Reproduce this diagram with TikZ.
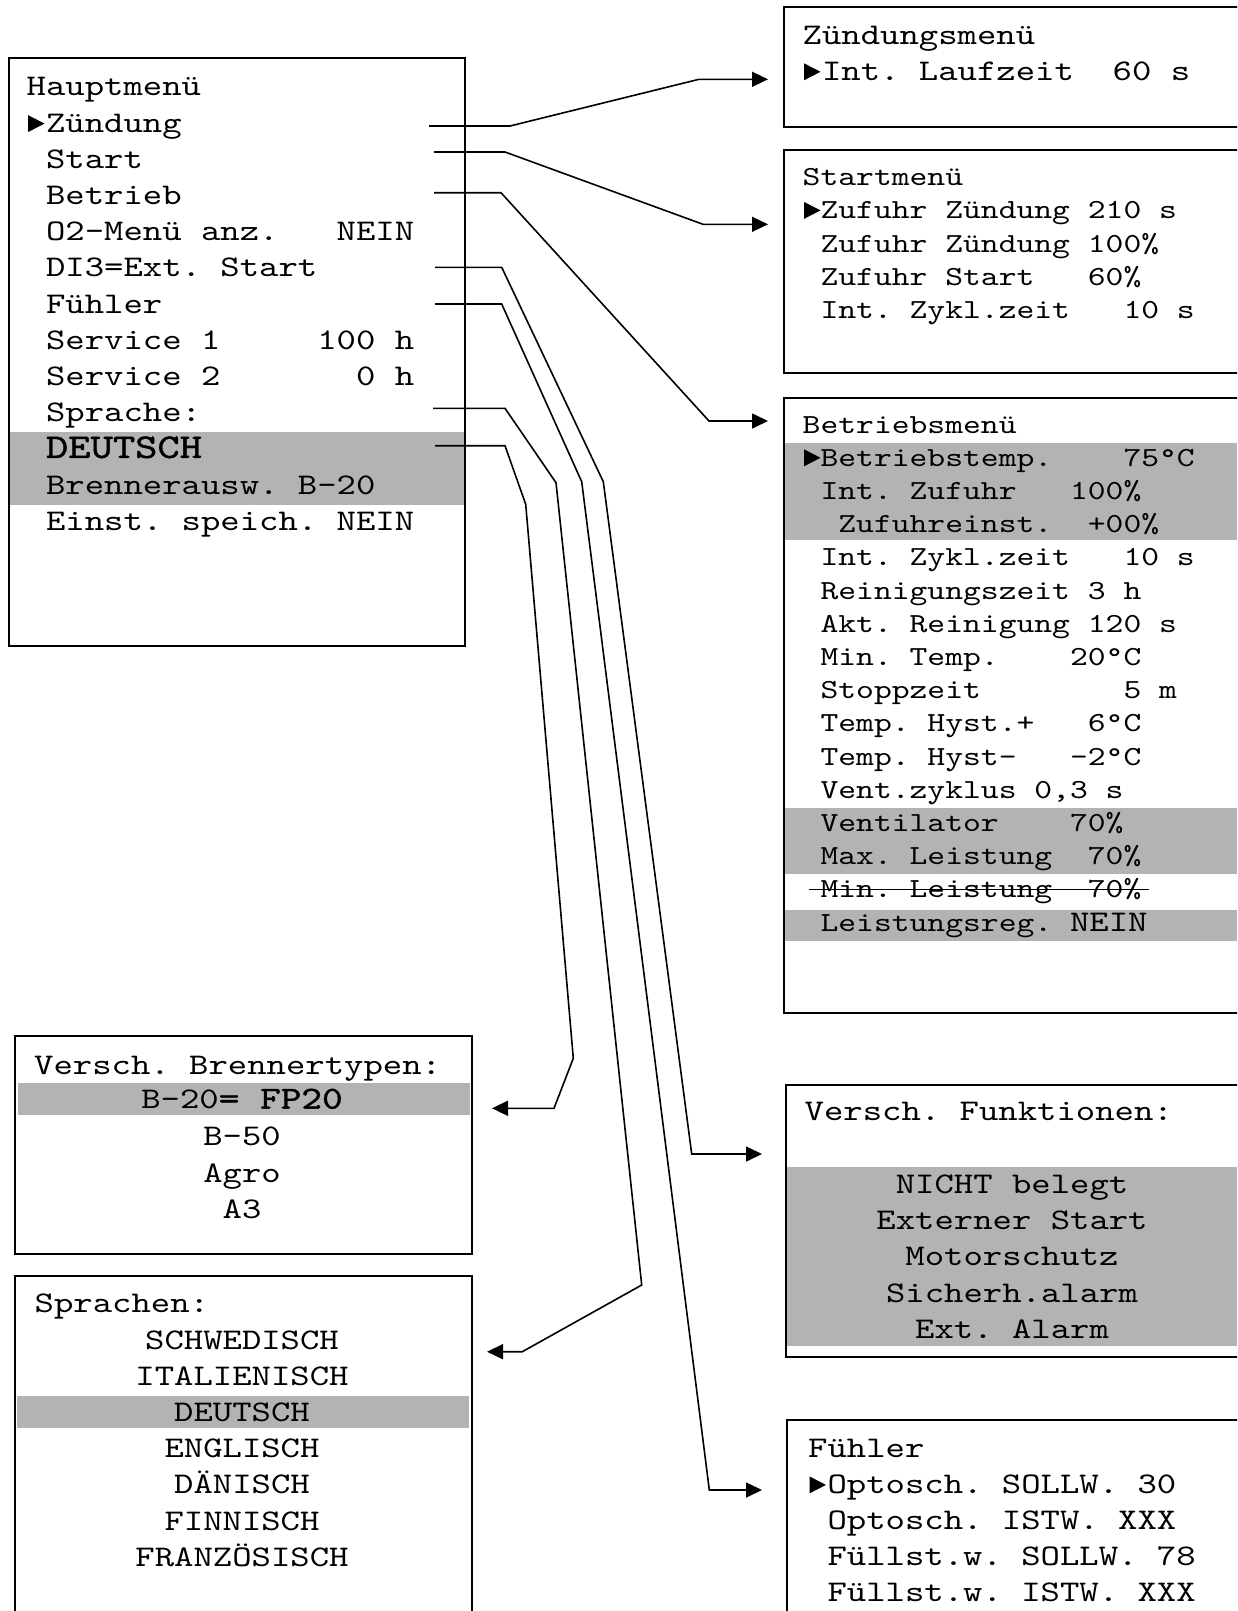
\documentclass[tikz,border=0pt]{standalone}
\usepackage{fontspec}
\usetikzlibrary{arrows.meta, positioning}

\newfontfamily\lcdfont{lmmono10-regular.otf}[FakeStretch=1.23]
\newfontfamily\lcdboldfont{lmmono10-regular.otf}[FakeStretch=1.23, FakeBold=1.2]
\definecolor{lcdgray}{RGB}{179,179,179}

\newcommand\mainrow{\lcdfont\fontsize{30}{36}\selectfont\frenchspacing}
\newcommand\subrow{\lcdfont\fontsize{27.6}{33}\selectfont\frenchspacing}
\newcommand\bigrow{\lcdboldfont\fontsize{34.5}{36}\selectfont}
\newcommand\boldrow{\lcdboldfont\fontsize{32}{36}\selectfont}

\begin{document}
\begin{tikzpicture}[
                x = 1pt, y = -1pt, % image pixels, y downwards
                > = {Triangle[length=16pt, width=15pt]}, % arrow head style
                box/.style = {draw = black, line width = 2pt, inner sep = 0pt},
                row/.style = {inner sep = 0pt, anchor = base west, font = \mainrow},
                subrow/.style = {row, font = \subrow},
                crow/.style = {row, anchor = base},
                band/.style = {fill = lcdgray},
                link/.style = {->, line width = 1.6pt}
            ]

            \useasboundingbox (0,0) rectangle (1237,1611);
            \clip (0,0) rectangle (1237,1611);

            % grey bars
            \fill[band] (8,432.3) rectangle (464,505);
            \fill[band] (783,443) rectangle (1237,539.7);
            \fill[band] (783,808.2) rectangle (1237,873.8);
            \fill[band] (783,909.9) rectangle (1237,941);
            \fill[band] (787,1166.5) rectangle (1237,1346);
            \fill[band] (17.8,1083.3) rectangle (470,1115);
            \fill[band] (17.3,1396.2) rectangle (469.3,1427.8);

            % menu boxes
            \node[box, minimum width=456pt, minimum height=588pt, anchor=north west] (haupt) at (8,57) {};
            \node[box, minimum width=500pt, minimum height=120pt, anchor=north west] (zuend) at (783,6) {};
            \node[box, minimum width=500pt, minimum height=223pt, below=21.3pt of zuend] (start) {};
            \node[box, minimum width=500pt, minimum height=615pt, below=22.3pt of start] (betrieb) {};
            \node[box, minimum width=500pt, minimum height=272pt, anchor=north west] (funkt) at (785,1084) {};
            \node[box, minimum width=500pt, minimum height=300pt, anchor=north west] (fuehler) at (786,1419) {};
            \node[box, minimum width=456.5pt, minimum height=218pt, anchor=north west] (brenner) at (14,1035) {};
            \node[box, minimum width=456.5pt, minimum height=400pt, below=19.5pt of brenner] (sprachen) {};

            % Hauptmenue
            \foreach \t [count=\i] in {Hauptmenü, ~Zündung, ~Start, ~Betrieb,
                ~O2-Menü anz.~~~NEIN, ~DI3=Ext. Start, ~Fühler, ~Service 1~~~~~100 h,
                ~Service 2~~~~~~~0 h, ~Sprache:, ~{\bigrow DEUTSCH}, ~Brennerausw. B-20,
                ~Einst. speich. NEIN}
                \node[row] (h\i) at (26.5, {95.9 + 36.2*(\i-1)}) {\t};

            % Zuendungsmenue, Startmenue, Betriebsmenue
            \foreach \t [count=\i] in {Zündungsmenü, ~Int. Laufzeit~~60 s}
                \node[row] (z\i) at (802.5, {44.3 + 36*(\i-1)}) {\t};
            \foreach \t [count=\i] in {Startmenü, ~Zufuhr Zündung 210 s,
                ~Zufuhr Zündung 100\%, ~Zufuhr Start~~~60\%, ~Int. Zykl.zeit~~~10 s}
                \node[subrow] (s\i) at (802.5, {185.7 + 33.2*(\i-1)}) {\t};
            \foreach \t [count=\i] in {Betriebsmenü, ~Betriebstemp.~~~~75°C,
                ~Int. Zufuhr~~~100\%, ~~Zufuhreinst.~~+00\%, ~Int. Zykl.zeit~~~10 s,
                ~Reinigungszeit 3 h, ~Akt. Reinigung 120 s, ~Min. Temp.~~~~20°C,
                ~Stoppzeit~~~~~~~~5 m, ~Temp. Hyst.+~~~6°C, ~Temp. Hyst-~~~-2°C,
                {~Vent.zyklus 0,3 s}, ~Ventilator~~~~70\%, ~Max. Leistung~~70\%,
                ~Min. Leistung~~70\%, ~Leistungsreg. {\mainrow NEIN}}
                \node[subrow] (b\i) at (802.5, {433.1 + 33.2*(\i-1)}) {\t};
            \draw[line width=1.6pt] ([xshift=6pt, yshift=8.4pt]b15.base west)
                -- ([xshift=7pt, yshift=8.4pt]b15.base east);

            % Funktionen, Fuehler
            \node[row] (v0) at (804.5,1120.4) {Versch. Funktionen:};
            \foreach \t [count=\i] in {NICHT belegt, Externer Start, Motorschutz,
                Sicherh.alarm, Ext. Alarm}
                \node[crow] (v\i) at (1012, {1193.5 + 36.2*(\i-1)}) {\t};
            \foreach \t [count=\i] in {Fühler, ~Optosch. SOLLW. 30, ~Optosch. ISTW. XXX,
                ~Füllst.w. SOLLW. 78, ~Füllst.w. ISTW. XXX}
                \node[row] (f\i) at (808, {1457.3 + 36.1*(\i-1)}) {\t};

            % Brennertypen, Sprachen
            \node[row] (r0) at (34,1074.7) {Versch. Brennertypen:};
            \foreach \t [count=\i] in {B-20{\boldrow= FP20}, B-50, Agro, A3}
                \node[crow] (r\i) at (242, {1108.6 + 36.7*(\i-1)}) {\t};
            \node[row] (l0) at (34.5,1312.9) {Sprachen:};
            \foreach \t [count=\i] in {SCHWEDISCH, ITALIENISCH, DEUTSCH, ENGLISCH,
                DÄNISCH, FINNISCH, FRANZÖSISCH}
                \node[crow] (l\i) at (242, {1349 + 36.2*(\i-1)}) {\t};

            % cursor marks
            \foreach \n in {h2, z2, s2, b2, f2}
                \fill (\n.base west) ++(1.5,0) -- ++(0,-17) -- ++(16.5,8.5) -- cycle;

            % connectors
            \coordinate (sZ) at (429,126);   \coordinate (kZ) at (699,79.3);
            \coordinate (sS) at (434,152);   \coordinate (kS) at (703,224.3);
            \coordinate (sB) at (434,192.7); \coordinate (kB) at (709,421);
            \coordinate (sD) at (435,267.3); \coordinate (kD) at (691.7,1154);
            \coordinate (sF) at (435,304);   \coordinate (kF) at (709.3,1490);
            \coordinate (sL) at (433,408.3); \coordinate (kL) at (522.3,1351.7);
            \coordinate (sT) at (435,445.7); \coordinate (kT) at (554,1108.3);

            \draw[link, shorten >=15pt] (sZ) -- ++(81,0) -- (kZ) -- (zuend.west |- kZ);
            \draw[link, shorten >=15pt] (sS) -- ++(71,0) -- (kS) -- (start.west |- kS);
            \draw[link, shorten >=15pt] (sB) -- ++(67,0) -- (kB) -- (betrieb.west |- kB);
            \draw[link, shorten >=23pt] (sD) -- ++(66.7,0) -- (603.3,481.7) -- (kD)
                -- (funkt.west |- kD);
            \draw[link, shorten >=24pt] (sF) -- ++(66.7,0) -- (581.7,481.7) -- (kF)
                -- (fuehler.west |- kF);
            \draw[link, shorten >=14.5pt] (sL) -- ++(72,0) -- (556,482.7) -- (641.7,1285)
                -- (kL) -- (sprachen.east |- kL);
            \draw[link, shorten >=19.5pt] (sT) -- ++(70,0) -- (525.7,504.3) -- (573.3,1058.3)
                -- (kT) -- (brenner.east |- kT);

        \end{tikzpicture}
\end{document}
